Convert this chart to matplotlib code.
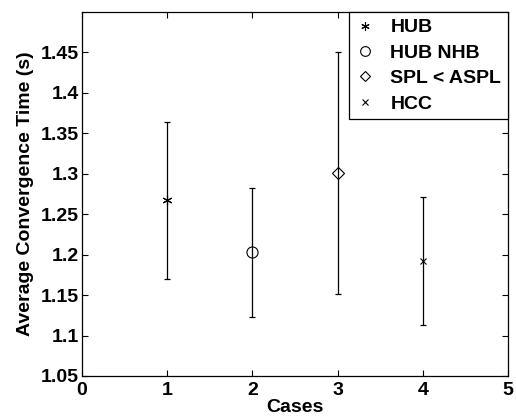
import numpy as np
import matplotlib
matplotlib.use("Agg")
import matplotlib.pyplot as plt
from matplotlib.lines import Line2D

matplotlib.rcParams['font.family'] = ['Liberation Sans', 'DejaVu Sans']

cases  = [1, 2, 3, 4]
labels = ['HUB', 'HUB NHB', 'SPL < ASPL', 'HCC']
means  = [1.267, 1.203, 1.301, 1.192]
upper  = [1.364, 1.282, 1.450, 1.271]
lower  = [1.170, 1.123, 1.151, 1.113]
markers = [(6, 2, 0), 'o', 'D', 'x']
msizes  = [7, 8, 6, 5]

fig = plt.figure(figsize=(5.16, 4.20), dpi=100)
ax = fig.add_axes([82/516, 44/420, 426/516, 364/420])

handles = []
for c, m, lo, hi, lab, mk, ms in zip(cases, means, lower, upper, labels, markers, msizes):
    ax.errorbar([c], [m], yerr=[[m - lo], [hi - m]], fmt='none',
                ecolor='black', elinewidth=0.9, capsize=2.5, capthick=0.9)
    ax.plot([c], [m], linestyle='none', marker=mk, markersize=ms,
            markerfacecolor='none', markeredgecolor='black', markeredgewidth=0.8)
    handles.append(Line2D([], [], linestyle='none', marker=mk, markersize=ms - 1,
                          markerfacecolor='none', markeredgecolor='black',
                          markeredgewidth=0.8, label=lab))

ax.set_xlim(0, 5)
ax.set_ylim(1.05, 1.5)
ax.set_xticks([0, 1, 2, 3, 4, 5])
ax.set_yticks([1.05, 1.1, 1.15, 1.2, 1.25, 1.3, 1.35, 1.4, 1.45])
ax.set_yticklabels(['1.05', '1.1', '1.15', '1.2', '1.25', '1.3', '1.35', '1.4', '1.45'])
ax.tick_params(direction='in', length=4, width=0.8, labelsize=14, top=True, right=True, pad=2)
ax.tick_params(axis='x', pad=4)
for t in ax.get_xticklabels() + ax.get_yticklabels():
    t.set_fontweight('bold')
for s in ax.spines.values():
    s.set_linewidth(0.9)

ax.set_xlabel('Cases', fontsize=14, fontweight='bold', labelpad=0)
ax.set_ylabel('Average Convergence Time (s)', fontsize=14, fontweight='bold', labelpad=5)

leg = ax.legend(handles=handles, loc='upper right', prop={'weight': 'bold', 'size': 14},
                fancybox=False, edgecolor='black', framealpha=1,
                borderaxespad=0, handlelength=1.0, handletextpad=0.8,
                labelspacing=0.4, borderpad=0.35)
leg.get_frame().set_linewidth(0.9)

fig.savefig('out.png', dpi=100)
